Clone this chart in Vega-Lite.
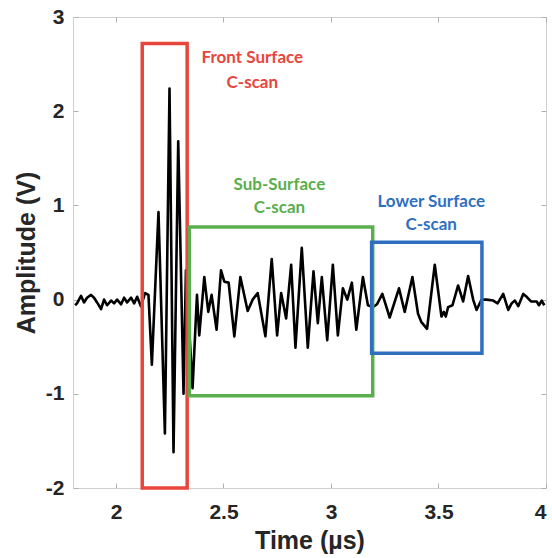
{
  "$schema": "https://vega.github.io/schema/vega-lite/v6.json",
  "width": 473,
  "height": 471,
  "autosize": {"type": "none"},
  "padding": {"left": 73, "top": 17, "right": 6, "bottom": 70},
  "background": "white",
  "config": {
    "view": {"stroke": "#d0d0d0", "strokeWidth": 1},
    "axis": {
      "domainColor": "#d0d0d0",
      "tickColor": "#b0b0b0",
      "grid": false,
      "labelFont": "Liberation Sans",
      "labelFontWeight": "bold",
      "labelFontSize": 21,
      "labelColor": "#262626",
      "titleFont": "Liberation Sans",
      "titleFontWeight": "bold",
      "titleFontSize": 25,
      "titleColor": "#262626"
    }
  },
  "datasets": {
    "signal": [
      {"t": 1.810, "v": -0.06}, {"t": 1.8186, "v": -0.04}, {"t": 1.8373, "v": 0.04}, {"t": 1.8513, "v": -0.03},
      {"t": 1.8653, "v": 0.02}, {"t": 1.8839, "v": 0.05}, {"t": 1.8979, "v": 0.02}, {"t": 1.9119, "v": -0.03},
      {"t": 1.9305, "v": -0.10}, {"t": 1.9445, "v": 0.0}, {"t": 1.9585, "v": -0.06}, {"t": 1.9771, "v": -0.01},
      {"t": 1.9911, "v": -0.04}, {"t": 2.0051, "v": 0.0}, {"t": 2.0237, "v": -0.05}, {"t": 2.0377, "v": 0.02},
      {"t": 2.0517, "v": -0.03}, {"t": 2.0703, "v": 0.02}, {"t": 2.0843, "v": -0.04}, {"t": 2.0983, "v": 0.03},
      {"t": 2.1156, "v": -0.07}, {"t": 2.1356, "v": 0.07}, {"t": 2.151, "v": 0.05}, {"t": 2.1668, "v": -0.69},
      {"t": 2.1976, "v": 0.93}, {"t": 2.2274, "v": -1.42}, {"t": 2.2489, "v": 2.24}, {"t": 2.2675, "v": -1.62},
      {"t": 2.2894, "v": 1.68}, {"t": 2.3141, "v": -1.0}, {"t": 2.3253, "v": 0.31}, {"t": 2.3561, "v": -0.94},
      {"t": 2.3766, "v": 0.05}, {"t": 2.3873, "v": -0.38}, {"t": 2.4106, "v": 0.24}, {"t": 2.4292, "v": -0.13},
      {"t": 2.4446, "v": 0.05}, {"t": 2.4679, "v": -0.32}, {"t": 2.4884, "v": 0.31}, {"t": 2.5038, "v": 0.19},
      {"t": 2.5239, "v": 0.18}, {"t": 2.5504, "v": -0.39}, {"t": 2.5784, "v": 0.24}, {"t": 2.6124, "v": -0.12},
      {"t": 2.6357, "v": 0.0}, {"t": 2.659, "v": 0.07}, {"t": 2.6949, "v": -0.39}, {"t": 2.7243, "v": 0.43},
      {"t": 2.7494, "v": -0.38}, {"t": 2.7681, "v": 0.07}, {"t": 2.7914, "v": -0.2}, {"t": 2.8147, "v": 0.37},
      {"t": 2.8347, "v": -0.51}, {"t": 2.8641, "v": 0.55}, {"t": 2.8921, "v": -0.51}, {"t": 2.9186, "v": 0.30},
      {"t": 2.9387, "v": -0.25}, {"t": 2.9573, "v": 0.24}, {"t": 2.9825, "v": -0.43}, {"t": 3.0086, "v": 0.37},
      {"t": 3.0319, "v": -0.38}, {"t": 3.0552, "v": 0.12}, {"t": 3.0757, "v": 0.0}, {"t": 3.0971, "v": 0.18},
      {"t": 3.1176, "v": -0.32}, {"t": 3.1484, "v": 0.24}, {"t": 3.1717, "v": -0.06}, {"t": 3.195, "v": -0.08},
      {"t": 3.2137, "v": -0.05}, {"t": 3.2388, "v": 0.06}, {"t": 3.2729, "v": -0.19}, {"t": 3.3162, "v": 0.12},
      {"t": 3.3428, "v": -0.13}, {"t": 3.3787, "v": 0.24}, {"t": 3.4048, "v": -0.15}, {"t": 3.4206, "v": -0.24},
      {"t": 3.4467, "v": -0.31}, {"t": 3.4826, "v": 0.37}, {"t": 3.5138, "v": -0.18}, {"t": 3.5246, "v": -0.13},
      {"t": 3.5339, "v": -0.18}, {"t": 3.5446, "v": -0.08}, {"t": 3.5651, "v": -0.06}, {"t": 3.5912, "v": 0.15},
      {"t": 3.6145, "v": -0.02}, {"t": 3.6378, "v": 0.25}, {"t": 3.6611, "v": 0.0}, {"t": 3.6769, "v": -0.11},
      {"t": 3.7003, "v": 0.0}, {"t": 3.7236, "v": 0.0}, {"t": 3.7544, "v": -0.01}, {"t": 3.7749, "v": -0.04},
      {"t": 3.801, "v": 0.06}, {"t": 3.8243, "v": -0.11}, {"t": 3.8401, "v": -0.04}, {"t": 3.8555, "v": -0.01},
      {"t": 3.8709, "v": -0.07}, {"t": 3.8942, "v": 0.06}, {"t": 3.91, "v": 0.03}, {"t": 3.93, "v": -0.02},
      {"t": 3.9567, "v": -0.02}, {"t": 3.9674, "v": -0.06}, {"t": 3.98, "v": -0.01}, {"t": 3.9921, "v": -0.06}
    ],
    "boxes": [
      {"name": "Front", "x1": 2.122, "x2": 2.331, "y1": 2.72, "y2": -2.0},
      {"name": "Sub", "x1": 2.341, "x2": 3.194, "y1": 0.77, "y2": -1.02},
      {"name": "Lower", "x1": 3.189, "x2": 3.702, "y1": 0.61, "y2": -0.57}
    ],
    "labels": [
      {"name": "Front", "text": "Front Surface", "x": 2.634, "y": 2.564},
      {"name": "Front", "text": "C-scan", "x": 2.634, "y": 2.30},
      {"name": "Sub", "text": "Sub-Surface", "x": 2.760, "y": 1.217},
      {"name": "Sub", "text": "C-scan", "x": 2.760, "y": 0.972},
      {"name": "Lower", "text": "Lower Surface", "x": 3.466, "y": 1.039},
      {"name": "Lower", "text": "C-scan", "x": 3.466, "y": 0.79}
    ]
  },
  "resolve": {"axis": {"x": "independent", "y": "independent"}},
  "layer": [
    {
      "data": {"name": "signal"},
      "mark": {"type": "line", "color": "black", "strokeWidth": 2.6, "strokeJoin": "round"},
      "encoding": {
        "x": {"field": "t", "type": "quantitative",
              "scale": {"domain": [1.8, 4], "nice": false, "zero": false},
              "axis": {"orient": "bottom", "title": "Time (µs)", "values": [2, 2.5, 3, 3.5, 4],
                       "labelExpr": "datum.value + ''", "tickSize": -5, "labelPadding": 18, "titlePadding": 6}},
        "y": {"field": "v", "type": "quantitative",
              "scale": {"domain": [-2, 3], "nice": false, "zero": false},
              "axis": {"orient": "left", "title": "Amplitude (V)", "values": [-2, -1, 0, 1, 2, 3],
                       "labelExpr": "datum.value + ''", "tickSize": -5, "labelPadding": 14, "titlePadding": 6}}
      }
    },
    {
      "data": {"name": "boxes"},
      "mark": {"type": "rect", "fill": null, "fillOpacity": 0, "strokeWidth": 3.5},
      "encoding": {
        "x": {"field": "x1", "type": "quantitative",
              "axis": {"orient": "top", "title": null, "labels": false, "domain": false, "values": [2, 2.5, 3, 3.5, 4], "tickSize": -5}},
        "x2": {"field": "x2"},
        "y": {"field": "y1", "type": "quantitative",
              "axis": {"orient": "right", "title": null, "labels": false, "domain": false, "values": [-2, -1, 0, 1, 2, 3], "tickSize": -5}},
        "y2": {"field": "y2"},
        "stroke": {"field": "name", "type": "nominal",
                   "scale": {"domain": ["Front", "Sub", "Lower"], "range": ["#e8453c", "#5aae4e", "#2f6fc0"]},
                   "legend": null}
      }
    },
    {
      "data": {"name": "labels"},
      "mark": {"type": "text", "font": "Lato", "fontWeight": "bold", "fontSize": 17, "align": "center", "baseline": "middle"},
      "encoding": {
        "x": {"field": "x", "type": "quantitative", "axis": null},
        "y": {"field": "y", "type": "quantitative", "axis": null},
        "text": {"field": "text"},
        "color": {"field": "name", "type": "nominal",
                  "scale": {"domain": ["Front", "Sub", "Lower"], "range": ["#e8453c", "#5aae4e", "#2f6fc0"]},
                  "legend": null}
      }
    }
  ]
}
